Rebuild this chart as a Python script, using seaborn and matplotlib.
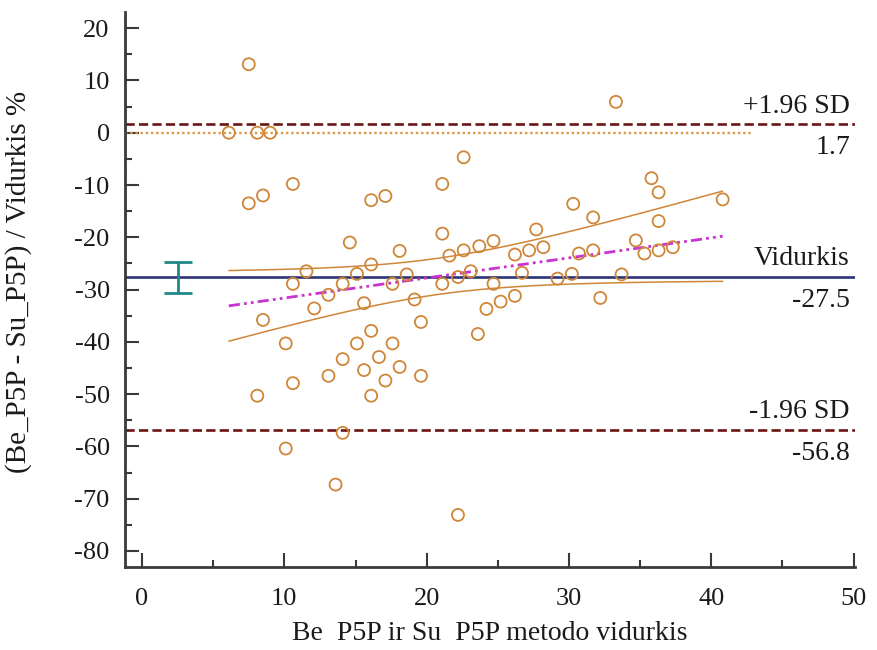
import numpy as np
import pandas as pd
import matplotlib
matplotlib.use("Agg")
import matplotlib.pyplot as plt
import seaborn as sns
from matplotlib.ticker import MultipleLocator

# Mean of the two methods (x) and percentage difference (y) for each sample
mean_of_methods = [
    7.5, 6.1, 8.1, 9.0, 10.6, 7.5, 8.5, 16.1, 17.1, 21.1,
    14.6, 18.1, 21.1, 21.6, 33.3, 22.6, 35.8, 36.3, 40.8, 30.3,
    31.7, 36.3, 27.7, 24.7, 23.7, 22.6, 26.2, 27.2, 28.2, 34.7,
    35.3, 36.3, 37.3, 30.7, 31.7, 11.55, 10.6, 8.5, 12.1, 13.1,
    14.1, 15.1, 16.1, 18.6, 17.6, 21.1, 15.6, 19.15, 19.6, 10.1,
    16.1, 15.1, 17.6, 14.1, 16.65, 15.6, 18.1, 13.1, 17.1, 19.6,
    10.6, 8.1, 16.1, 14.1, 10.1, 13.6, 22.2, 22.2, 23.1, 24.7,
    26.7, 29.2, 30.2, 33.7, 24.2, 25.2, 26.2, 32.2, 23.6,
]
pct_difference = [
    13.1, 0.0, 0.0, 0.0, -9.8, -13.5, -12.0, -12.9, -12.1, -9.8,
    -21.0, -22.6, -19.3, -23.5, 5.9, -4.7, -8.7, -11.4, -12.75, -13.6,
    -16.2, -16.9, -18.5, -20.7, -21.7, -22.5, -23.3, -22.5, -21.9, -20.6,
    -23.1, -22.5, -21.9, -23.1, -22.5, -26.5, -28.9, -35.8, -33.6, -31.0,
    -28.9, -27.0, -25.2, -27.1, -28.9, -28.9, -32.6, -31.9, -36.2, -40.3,
    -37.9, -40.3, -40.3, -43.3, -42.9, -45.4, -44.8, -46.5, -47.4, -46.5,
    -47.9, -50.3, -50.3, -57.4, -60.4, -67.3, -73.1, -27.6, -26.5, -28.9,
    -26.8, -27.9, -27.0, -27.1, -33.7, -32.3, -31.2, -31.6, -38.5,
]

# Summary statistics shown on the chart
bias = -27.5
upper_loa = 1.7
lower_loa = -56.8
bias_ci = [-30.6, -24.8]
bias_ci_x = 2.5
zero_line_end = 42.8
t_crit = 1.99

x_ticks = [0, 10, 20, 30, 40, 50]
y_ticks = [-80, -70, -60, -50, -40, -30, -20, -10, 0, 10, 20]

ORANGE = "#CF8638"
ZERO_C = "#D99A48"
MAGENTA = "#C932D0"
NAVY = "#2D3476"
DARKRED = "#6B1414"
TEAL = "#1E8787"
AXIS_C = "#3A3A3A"
TEXT_C = "#1a1a1a"

sns.set_theme(style="white")
plt.rcParams["font.family"] = ["Liberation Serif", "DejaVu Serif"]
plt.rcParams["axes.unicode_minus"] = False

df = pd.DataFrame({"avg": mean_of_methods, "diff": pct_difference})

fig = plt.figure(figsize=(8.77, 6.5), dpi=100)
ax = fig.add_axes([0.1425, 0.1282, 0.8324, 0.8534])
ax.set_xlim(-1.2, 50.1)
ax.set_ylim(-83.0, 23.1)

# Limits of agreement, bias and line of equality
ax.axhline(upper_loa, color=DARKRED, lw=1.9, ls=(0, (3.5, 1.6)), zorder=2)
ax.axhline(lower_loa, color=DARKRED, lw=1.9, ls=(0, (3.5, 1.6)), zorder=2)
ax.axhline(bias, color=NAVY, lw=1.9, zorder=2)
ax.plot([-1.2, zero_line_end], [0, 0], color=ZERO_C, lw=1.7,
        ls=(0, (1, 1.2)), zorder=2)

# Regression of difference on mean, with 95% confidence curves
x = np.asarray(mean_of_methods)
y = np.asarray(pct_difference)
slope, intercept = np.polyfit(x, y, 1)
xs = np.linspace(x.min(), x.max(), 200)
fit = intercept + slope * xs
resid = y - (intercept + slope * x)
n = len(x)
s = np.sqrt(np.sum(resid ** 2) / (n - 2))
sxx = np.sum((x - x.mean()) ** 2)
half = t_crit * s * np.sqrt(1.0 / n + (xs - x.mean()) ** 2 / sxx)
ax.plot(xs, fit + half, color=ORANGE, lw=1.1, zorder=3)
ax.plot(xs, fit - half, color=ORANGE, lw=1.1, zorder=3)
ax.plot(xs, fit, color=MAGENTA, lw=2.0,
        ls=(0, (4, 1.5, 1, 1.5, 1, 1.5)), zorder=3)

# Observations
sns.scatterplot(data=df, x="avg", y="diff", ax=ax, s=75, marker="o",
                facecolor="none", edgecolor=ORANGE, linewidth=1.3, zorder=4)

# Confidence interval of the bias
ax.errorbar([bias_ci_x], [(bias_ci[0] + bias_ci[1]) / 2],
            yerr=[[(bias_ci[1] - bias_ci[0]) / 2]], color=TEAL,
            lw=2.0, capsize=10, capthick=2.0, fmt="none", zorder=5)

# Right-hand annotations
lab_kw = dict(xycoords=("axes fraction", "data"), textcoords="offset points",
              ha="right", fontsize=20, color=TEXT_C)
for val, top, bottom in [(upper_loa, "+1.96 SD", f"{upper_loa:.1f}"),
                         (bias, "Vidurkis", f"{bias:.1f}"),
                         (lower_loa, "-1.96 SD", f"{lower_loa:.1f}")]:
    ax.annotate(top, xy=(0.993, val), xytext=(0, 3.8), va="bottom", **lab_kw)
    ax.annotate(bottom, xy=(0.993, val), xytext=(0, -8), va="top", **lab_kw)

# Axes styling
sns.despine(ax=ax)
for side in ("left", "bottom"):
    ax.spines[side].set_color(AXIS_C)
    ax.spines[side].set_linewidth(2.0)
ax.set_xticks(x_ticks)
ax.set_yticks(y_ticks)
ax.xaxis.set_minor_locator(MultipleLocator(5))
ax.yaxis.set_minor_locator(MultipleLocator(5))
ax.tick_params(which="major", direction="in", length=10, width=1.5,
               color=AXIS_C, labelsize=19, labelcolor=TEXT_C,
               bottom=True, left=True)
ax.tick_params(axis="y", which="major", pad=11)
ax.tick_params(axis="x", which="major", pad=15)
ax.tick_params(which="minor", direction="in", length=5.3, width=1.5,
               color=AXIS_C, bottom=True, left=True)
ax.set_xlabel("")
ax.set_ylabel("")

fig.text(490 / 877, 1 - 634 / 650, "Be  P5P ir Su  P5P metodo vidurkis",
         ha="center", va="center", fontsize=20, color=TEXT_C)
fig.text(19 / 877, 1 - 282 / 650, "(Be_P5P - Su_P5P) / Vidurkis %",
         ha="center", va="center", rotation=90, fontsize=21, color=TEXT_C)

fig.savefig("out.png", dpi=100, facecolor="white")
